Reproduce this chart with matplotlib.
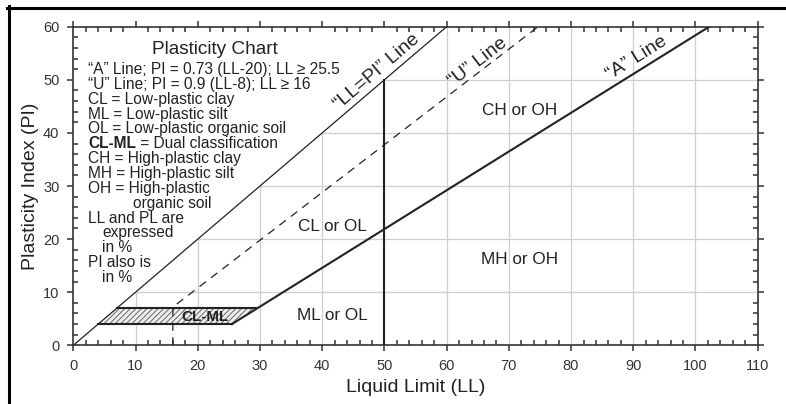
import numpy as np
import matplotlib
matplotlib.use('Agg')
import matplotlib.pyplot as plt
from matplotlib.patches import Polygon
from matplotlib.lines import Line2D
from matplotlib.ticker import MultipleLocator

plt.rcParams['font.family'] = ['Liberation Sans', 'DejaVu Sans']
plt.rcParams['hatch.linewidth'] = 0.7

# axes
x_ticks = list(range(0, 111, 10))
y_ticks = list(range(0, 61, 10))

# "LL=PI" line
llpi_ll = [0, 60]
llpi_pi = [0, 60]
# "U" line (dashed) with its vertical foot at LL = 16
u_ll = [16, 16, 74.7]
u_pi = [0, 7.2, 60]
# "A" line
a_ll = [25.5, 102.2]
a_pi = [4, 60]
# LL = 50 divider
div_ll = [50, 50]
div_pi = [0, 50]
# CL-ML zone
clml_ll = [4, 25.5, 29.6, 7]
clml_pi = [4, 4, 7, 7]

# zone labels
zone_names = ['CH or OH', 'MH or OH', 'CL or OL', 'ML or OL']
zone_ll = [71.8, 71.8, 41.7, 41.7]
zone_pi = [44.3, 16.1, 22.3, 5.7]

# legend text (text, indent in LL units)
notes = [
    ('\u201cA\u201d Line; PI = 0.73 (LL-20); LL \u2265 25.5', 0),
    ('\u201cU\u201d Line; PI = 0.9 (LL-8); LL \u2265 16', 0),
    ('CL = Low-plastic clay', 0),
    ('ML = Low-plastic silt', 0),
    ('OL = Low-plastic organic soil', 0),
    (None, 0),  # CL-ML line, drawn in two parts
    ('CH = High-plastic clay', 0),
    ('MH = High-plastic silt', 0),
    ('OH = High-plastic', 0),
    ('organic soil', 7.2),
    ('LL and PL are', 0),
    ('expressed', 2.2),
    ('in %', 2.2),
    ('PI also is', 0),
    ('in %', 2.2),
]

ink = '#222222'

fig = plt.figure(figsize=(7.86, 4.04), dpi=100)
ax = fig.add_axes([0.0933, 0.1453, 0.8707, 0.7886])
ax.set_xlim(0, 110)
ax.set_ylim(0, 60)

# grid only below the LL=PI line
clip = Polygon([(0, 0), (60, 60), (110, 60), (110, 0)], closed=True,
               transform=ax.transData)
vl = ax.vlines(x_ticks[1:-1], 0, 60, colors='#cfcfcf', lw=0.9, zorder=0.8)
hl = ax.hlines(y_ticks[1:-1], 0, 110, colors='#cfcfcf', lw=0.9, zorder=0.8)
vl.set_clip_path(clip)
hl.set_clip_path(clip)

# CL-ML hatched zone
zone = Polygon(list(zip(clml_ll, clml_pi)), closed=True, facecolor='#eeeeee',
               edgecolor='#666666', hatch='//////', lw=0, zorder=1.5)
ax.add_patch(zone)
ax.plot(clml_ll[:2], clml_pi[:2], color=ink, lw=1.5, zorder=3)
ax.plot(clml_ll[2:], clml_pi[2:], color=ink, lw=1.5, zorder=3)

ax.plot(llpi_ll, llpi_pi, color=ink, lw=0.9, zorder=3)
ax.plot(u_ll, u_pi, color=ink, lw=0.9, ls=(0, (6.5, 5)), zorder=3)
ax.plot(a_ll, a_pi, color=ink, lw=1.5, zorder=3)
ax.plot(div_ll, div_pi, color=ink, lw=1.5, zorder=3)


def line_angle(x0, y0, x1, y1):
    p = ax.transData.transform([(x0, y0), (x1, y1)])
    return np.degrees(np.arctan2(p[1, 1] - p[0, 1], p[1, 0] - p[0, 0]))


def line_label(txt, x0, y0, x1, y1, t, dist):
    ang = line_angle(x0, y0, x1, y1)
    x = x0 + t * (x1 - x0)
    y = y0 + t * (y1 - y0)
    r = np.radians(ang)
    ax.annotate(txt, (x, y), xytext=(-np.sin(r) * dist, np.cos(r) * dist),
                textcoords='offset points', rotation=ang, rotation_mode='anchor',
                ha='center', va='center', fontsize=14, color=ink, zorder=4)


line_label('\u201cLL=PI\u201d Line', 0, 0, 60, 60, 49.9 / 60, 8.2)
line_label('\u201cU\u201d Line', 16, 7.2, 74.7, 60, (65.9 - 16) / (74.7 - 16), 6.1)
line_label('\u201cA\u201d Line', 25.5, 4, 102.2, 60, (91.6 - 25.5) / (102.2 - 25.5), 8.3)

for name, x, y in zip(zone_names, zone_ll, zone_pi):
    ax.text(x, y, name, ha='center', va='center', fontsize=12.3, color=ink)
ax.text(21.2, 5.4, 'CL-ML', ha='center', va='center', fontsize=11,
        fontweight='bold', color=ink, zorder=4)

# legend block
ax.text(22.8, 55.8, 'Plasticity Chart', ha='center', va='center',
        fontsize=13.7, color=ink)
base_x = 2.4
note_fs = 11.2
ys = [51.94 - 2.797 * i for i in range(len(notes))]
for (txt, ind), y in zip(notes, ys):
    if txt is None:
        t = ax.text(base_x, y, 'CL-ML', ha='left', va='center', fontsize=note_fs,
                    fontweight='bold', color=ink)
        ax.annotate(' = Dual classification', xy=(1, 0), xycoords=t,
                    ha='left', va='bottom', fontsize=note_fs, color=ink)
    else:
        ax.text(base_x + ind, y, txt, ha='left', va='center', fontsize=note_fs,
                color=ink)

# axes styling
ax.set_xticks(x_ticks)
ax.set_yticks(y_ticks)
ax.xaxis.set_minor_locator(MultipleLocator(2))
ax.yaxis.set_minor_locator(MultipleLocator(2))
ax.tick_params(which='major', direction='out', length=4, width=1.1,
               top=True, right=True, labelsize=10.5, pad=6, colors='#333333')
ax.tick_params(which='minor', direction='in', length=3.5, width=1.1,
               top=True, right=True, colors='#333333')
for s in ax.spines.values():
    s.set_color('#333333')
    s.set_linewidth(1.2)
ax.set_xlabel('Liquid Limit (LL)', fontsize=14, color=ink, labelpad=4)
ax.set_ylabel('Plasticity Index (PI)', fontsize=14, color=ink, labelpad=3)

# outer frame (top and left edges)
W, H = 786, 404
fig.add_artist(Line2D([7 / W, 1], [1 - 7.5 / H, 1 - 7.5 / H], color='black',
                      lw=2.2, transform=fig.transFigure))
fig.add_artist(Line2D([9 / W, 9 / W], [0, 1 - 6 / H], color='black',
                      lw=2.2, transform=fig.transFigure))

fig.savefig('out.png', dpi=100)
